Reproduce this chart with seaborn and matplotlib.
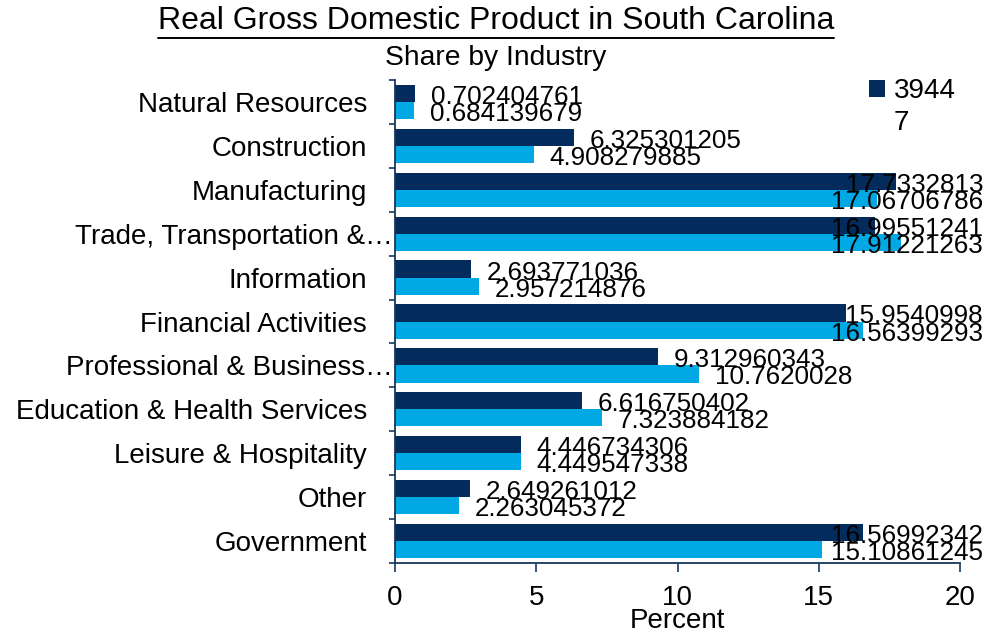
import numpy as np
import pandas as pd
import matplotlib
matplotlib.use("Agg")
import matplotlib.pyplot as plt
import matplotlib.transforms as mtransforms
from matplotlib.patches import Patch
from matplotlib.lines import Line2D
import seaborn as sns

# ---------------- data ----------------
industries = ["Natural Resources", "Construction", "Manufacturing",
              "Trade, Transportation &\u2026", "Information", "Financial Activities",
              "Professional & Business\u2026", "Education & Health Services",
              "Leisure & Hospitality", "Other", "Government"]
series_names = ["39447", "Series 2"]
share_first = [0.702404761, 6.325301205, 17.7332813, 16.99551241, 2.693771036,
               15.9540998, 9.312960343, 6.616750402, 4.446734306, 2.649261012,
               16.56992342]
share_second = [0.684139679, 4.908279885, 17.06706786, 17.91221263, 2.957214876,
                16.56399293, 10.7620028, 7.323884182, 4.449547338, 2.263045372,
                15.10861245]
x_ticks = [0, 5, 10, 15, 20]
title = "Real Gross Domestic Product in South Carolina"
subtitle = "Share by Industry"
legend_top = "3944"
legend_bottom = "7"

DARK = "#032B5B"
LIGHT = "#00A9E3"
AXIS = "#17375E"

sns.set_theme(style="white")
plt.rcParams["font.family"] = ["Liberation Sans", "DejaVu Sans"]
plt.rcParams["text.color"] = "black"
plt.rcParams["axes.labelcolor"] = "black"

W, H = 995, 634
fig = plt.figure(figsize=(W / 100, H / 100), dpi=100)
ax = fig.add_axes([395 / W, 1 - 563 / H, 565 / W, 483 / H])

df = pd.DataFrame({
    "Industry": industries * 2,
    "Share": share_first + share_second,
    "Series": [series_names[0]] * len(industries) + [series_names[1]] * len(industries),
})
sns.barplot(data=df, y="Industry", x="Share", hue="Series", orient="h",
            palette=[DARK, LIGHT], saturation=1, width=0.78, errorbar=None,
            linewidth=0, legend=False, ax=ax)

ax.set_xlim(x_ticks[0], x_ticks[-1])
ax.set_xticks(x_ticks)
ax.set_ylim(len(industries) - 0.5, -0.5)
ax.set_ylabel("")
ax.set_xlabel("Percent", fontsize=20, labelpad=-2, color="black")
sns.despine(ax=ax)
for s in ["left", "bottom"]:
    ax.spines[s].set_color(AXIS)
    ax.spines[s].set_linewidth(1.3)

ax.set_yticks(np.arange(-0.5, len(industries), 1), minor=True)
ax.tick_params(axis="y", which="major", length=0, pad=20, labelsize=20, labelcolor="black")
ax.tick_params(axis="y", which="minor", left=True, length=4.5, width=1.2, color=AXIS)
ax.tick_params(axis="x", which="major", bottom=True, length=6.5, width=1.2, color=AXIS,
               pad=9, labelsize=20, labelcolor="black")
ax.grid(False)

# truncated labels sit closer to the axis
shift = mtransforms.ScaledTranslation(26 / 100, 0, fig.dpi_scale_trans)
for lab in ax.get_yticklabels():
    if lab.get_text().endswith("\u2026"):
        lab.set_transform(lab.get_transform() + shift)

# data labels
texts = []
for cont, vals in zip(ax.containers, [share_first, share_second]):
    for patch, v in zip(cont.patches, vals):
        y = patch.get_y() + patch.get_height() / 2
        t = ax.annotate(str(v), xy=(patch.get_width(), y), xytext=(11.5, -0.7),
                        textcoords="offset points", ha="left", va="center_baseline",
                        fontsize=18.7, color="black", annotation_clip=False)
        texts.append(t)

# titles
t_title = fig.text(496 / W, 1 - 21 / H, title, ha="center", va="center", fontsize=23)
fig.text(496 / W, 1 - 58 / H, subtitle, ha="center", va="center", fontsize=20.3)

# legend
leg = fig.legend(handles=[Patch(facecolor=DARK, edgecolor="none")], labels=[legend_top],
                 loc="upper left", bbox_to_anchor=(869 / W, 1 - 78 / H), frameon=False,
                 fontsize=20, handlelength=0.58, handleheight=0.58, handletextpad=0.3,
                 borderpad=0, borderaxespad=0)

fig.canvas.draw()
renderer = fig.canvas.get_renderer()

# clamp data labels to the chart area
limit = W - 12
for t in texts:
    bb = t.get_window_extent(renderer)
    if bb.x1 > limit:
        dx = (bb.x1 - limit) * 72 / 100
        x0, y0 = t.get_position()
        t.set_position((x0 - dx, y0))

# underline title
bb = t_title.get_window_extent(renderer)
uy = (bb.y0 - 2) / H
fig.add_artist(Line2D([bb.x0 / W, bb.x1 / W], [uy, uy],
                      transform=fig.transFigure, color="black", lw=1.4))

# wrapped second line of the legend label
lt = leg.get_texts()[0].get_window_extent(renderer)
fig.text(lt.x0 / W, 1 - 123 / H, legend_bottom, ha="left", va="center", fontsize=20)

fig.savefig("out.png", dpi=100)
